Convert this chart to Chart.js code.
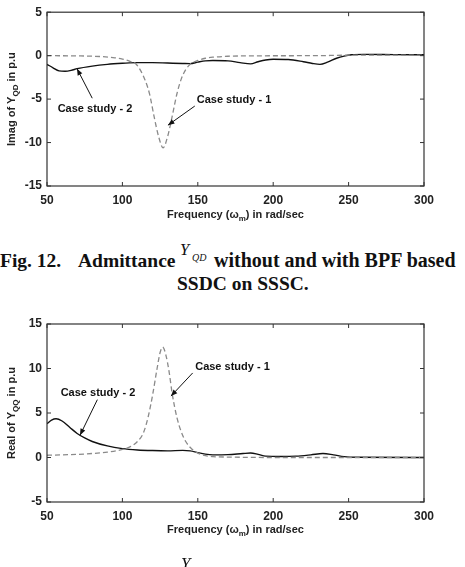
<!DOCTYPE html>
<html>
<head>
<meta charset="utf-8">
<script src="https://cdn.jsdelivr.net/npm/chart.js@4.4.0/dist/chart.umd.min.js"></script>
<style>
  body { margin: 0; background: #fff; width: 465px; height: 567px; overflow: hidden; position: relative; }
  canvas { position: absolute; left: 0; }
  .cap { position: absolute; font-family: "Liberation Serif", "Times New Roman", serif; font-weight: bold; font-size: 19.5px; line-height: 19.5px; white-space: nowrap; color: #111; }
  .it { font-style: italic; font-weight: normal; }
</style>
</head>
<body>
<canvas id="imagChart" width="465" height="232" style="top:0"></canvas>
<canvas id="realChart" width="465" height="257" style="top:310px"></canvas>

<div class="cap" style="left:0; top:251px">Fig. 12.</div>
<div class="cap" style="left:78px; top:251px">Admittance</div>
<div class="cap it" style="left:180px; top:240px; font-size:16.5px">Y</div>
<div class="cap it" style="left:192px; top:248px; font-size:10px">QD</div>
<div class="cap" style="left:214px; top:251px; font-size:20px">without and with BPF based</div>
<div class="cap" style="left:177px; top:274px">SSDC on SSSC.</div>
<div class="cap it" style="left:181px; top:554px; font-size:17px">Y</div>

<script>
// Fig. 12 - imaginary part of Y_QD
const freqImag1 = [50, 70, 85, 95, 100, 105, 109, 112, 115, 118, 121, 124, 127, 130, 133, 136, 139, 142, 145, 150, 155, 160, 170, 190, 230, 250, 300];
const imagCase1 = [0, -0.03, -0.1, -0.25, -0.4, -0.65, -0.95, -1.7, -2.8, -4.4, -7.0, -9.3, -10.6, -9.3, -7.0, -4.5, -2.7, -1.6, -1.0, -0.55, -0.3, -0.18, -0.07, -0.02, 0, 0.05, 0.05];
const freqImag2 = [50, 54, 58, 62, 66, 70, 80, 90, 100, 110, 120, 130, 140, 145, 150, 155, 160, 170, 178, 185, 190, 195, 200, 210, 220, 226, 231, 236, 242, 247, 252, 260, 280, 300];
const imagCase2 = [-1.0, -1.4, -1.75, -1.8, -1.7, -1.5, -1.2, -1.0, -0.88, -0.8, -0.8, -0.85, -0.9, -0.92, -0.75, -0.6, -0.55, -0.6, -0.8, -0.95, -0.7, -0.5, -0.42, -0.45, -0.7, -0.9, -1.0, -0.75, -0.3, -0.05, 0.1, 0.15, 0.12, 0.1];

// next figure - real part of Y_QQ
const freqReal1 = [50, 60, 70, 80, 90, 100, 105, 110, 114, 117, 120, 123, 125, 126.7, 129, 131, 133, 136, 139, 142, 146, 150, 155, 160, 170, 200, 300];
const realCase1 = [0.25, 0.3, 0.35, 0.45, 0.6, 0.9, 1.2, 1.8, 2.8, 4.5, 7.0, 10.0, 11.8, 12.4, 11.4, 9.6, 7.2, 4.6, 2.9, 1.8, 0.95, 0.5, 0.2, 0.1, 0.05, 0, 0];
const freqReal2 = [50, 53, 56, 60, 65, 70, 75, 80, 90, 100, 110, 120, 130, 140, 145, 150, 155, 160, 170, 180, 185, 190, 195, 205, 215, 225, 233, 240, 247, 255, 300];
const realCase2 = [3.8, 4.2, 4.35, 4.1, 3.4, 2.7, 2.2, 1.8, 1.3, 1.0, 0.85, 0.78, 0.75, 0.8, 0.75, 0.55, 0.38, 0.3, 0.32, 0.45, 0.5, 0.35, 0.15, 0.12, 0.15, 0.3, 0.45, 0.3, 0.1, 0.02, 0];

const xTicks = [50, 100, 150, 200, 250, 300];

const tickFont = { family: 'Liberation Sans, Arial, sans-serif', size: 12, weight: 'bold' };
const inkColor = '#222';

function toPoints(xs, ys) {
    return xs.map((x, i) => ({ x: x, y: ys[i] }));
}

// draws text made of normal / subscript parts, centred on 0,0
function drawRich(ctx, parts) {
    const big = 'bold 11px Liberation Sans, Arial, sans-serif';
    const small = 'bold 8px Liberation Sans, Arial, sans-serif';
    let total = 0;
    parts.forEach(p => { ctx.font = p.sub ? small : big; total += ctx.measureText(p.t).width; });
    let x = -total / 2;
    ctx.textBaseline = 'middle';
    ctx.textAlign = 'left';
    parts.forEach(p => {
        ctx.font = p.sub ? small : big;
        ctx.fillText(p.t, x, p.sub ? 4 : 0);
        x += ctx.measureText(p.t).width;
    });
}

function arrow(ctx, x1, y1, x2, y2) {
    ctx.beginPath();
    ctx.moveTo(x1, y1);
    ctx.lineTo(x2, y2);
    ctx.stroke();
    const ang = Math.atan2(y2 - y1, x2 - x1);
    const len = 7, w = 0.38;
    ctx.beginPath();
    ctx.moveTo(x2, y2);
    ctx.lineTo(x2 - len * Math.cos(ang - w), y2 - len * Math.sin(ang - w));
    ctx.lineTo(x2 - len * Math.cos(ang + w), y2 - len * Math.sin(ang + w));
    ctx.closePath();
    ctx.fill();
}

const framePlugin = {
    id: 'frame',
    afterDraw(chart, args, opts) {
        const { ctx, chartArea: a, scales: { x, y } } = chart;
        ctx.save();
        ctx.strokeStyle = '#333';
        ctx.lineWidth = 1.2;
        ctx.strokeRect(a.left, a.top, a.right - a.left, a.bottom - a.top);
        ctx.lineWidth = 1;
        ctx.beginPath();
        x.ticks.forEach(t => {
            const px = x.getPixelForValue(t.value);
            ctx.moveTo(px, a.bottom); ctx.lineTo(px, a.bottom - 4);
            ctx.moveTo(px, a.top); ctx.lineTo(px, a.top + 4);
        });
        y.ticks.forEach(t => {
            const py = y.getPixelForValue(t.value);
            ctx.moveTo(a.left, py); ctx.lineTo(a.left + 4, py);
            ctx.moveTo(a.right, py); ctx.lineTo(a.right - 4, py);
        });
        ctx.stroke();

        // axis titles
        ctx.fillStyle = inkColor;
        ctx.save();
        ctx.translate((a.left + a.right) / 2, a.bottom + opts.xTitleGap);
        drawRich(ctx, [{ t: 'Frequency (ω' }, { t: 'm', sub: true }, { t: ') in rad/sec' }]);
        ctx.restore();
        ctx.save();
        ctx.translate(12, (a.top + a.bottom) / 2);
        ctx.rotate(-Math.PI / 2);
        drawRich(ctx, opts.yTitle);
        ctx.restore();

        // annotations
        ctx.strokeStyle = '#111';
        ctx.fillStyle = '#111';
        ctx.lineWidth = 1;
        opts.notes.forEach(n => {
            ctx.font = 'bold 11px Liberation Sans, Arial, sans-serif';
            ctx.textAlign = 'center';
            ctx.textBaseline = 'middle';
            ctx.fillText(n.text, x.getPixelForValue(n.at[0]), y.getPixelForValue(n.at[1]));
            arrow(ctx, x.getPixelForValue(n.from[0]), y.getPixelForValue(n.from[1]),
                x.getPixelForValue(n.to[0]), y.getPixelForValue(n.to[1]));
        });
        ctx.restore();
    }
};

function makeChart(id, sets, yMin, yMax, pad, axisH, yTitle, notes) {
    return new Chart(document.getElementById(id), {
        type: 'line',
        data: {
            datasets: [
                {
                    label: 'Case study - 1',
                    data: toPoints(sets[0], sets[1]),
                    borderColor: '#8a8a8a',
                    borderWidth: 1.3,
                    borderDash: [5, 3],
                    pointRadius: 0,
                    cubicInterpolationMode: 'monotone'
                },
                {
                    label: 'Case study - 2',
                    data: toPoints(sets[2], sets[3]),
                    borderColor: '#111',
                    borderWidth: 1.4,
                    pointRadius: 0,
                    cubicInterpolationMode: 'monotone'
                }
            ]
        },
        options: {
            responsive: false,
            animation: false,
            layout: { padding: { top: pad, right: 41, left: 0, bottom: 0 } },
            plugins: {
                legend: { display: false },
                tooltip: { enabled: false },
                frame: { xTitleGap: axisH.title, yTitle: yTitle, notes: notes }
            },
            scales: {
                x: {
                    type: 'linear', min: 50, max: 300,
                    afterBuildTicks: s => { s.ticks = xTicks.map(v => ({ value: v })); },
                    ticks: { padding: 7, font: tickFont, color: inkColor, maxRotation: 0 },
                    grid: { display: false, drawTicks: false },
                    border: { display: false },
                    afterFit: s => { s.height = axisH.h; }
                },
                y: {
                    min: yMin, max: yMax,
                    ticks: { stepSize: 5, padding: 5, font: tickFont, color: inkColor },
                    grid: { display: false, drawTicks: false },
                    border: { display: false },
                    afterFit: s => { s.width = 47; }
                }
            }
        },
        plugins: [framePlugin]
    });
}

makeChart('imagChart', [freqImag1, imagCase1, freqImag2, imagCase2], -15, 5, 9, { h: 46, title: 29 },
    [{ t: 'Imag of Y' }, { t: 'QD', sub: true }, { t: ' in p.u' }],
    [
        { text: 'Case study - 2', at: [81.8, -6.1], from: [80, -4.9], to: [69.9, -1.5] },
        { text: 'Case study - 1', at: [174, -5.1], from: [148, -5.8], to: [130.2, -8.0] }
    ]);

makeChart('realChart', [freqReal1, realCase1, freqReal2, realCase2], -5, 15, 14, { h: 65, title: 28 },
    [{ t: 'Real of Y' }, { t: 'QQ', sub: true }, { t: ' in p.u' }],
    [
        { text: 'Case study - 1', at: [173, 10.15], from: [146.6, 9.5], to: [132.2, 6.9] },
        { text: 'Case study - 2', at: [83.8, 7.2], from: [83.4, 6.5], to: [71.9, 2.5] }
    ]);
</script>
</body>
</html>
